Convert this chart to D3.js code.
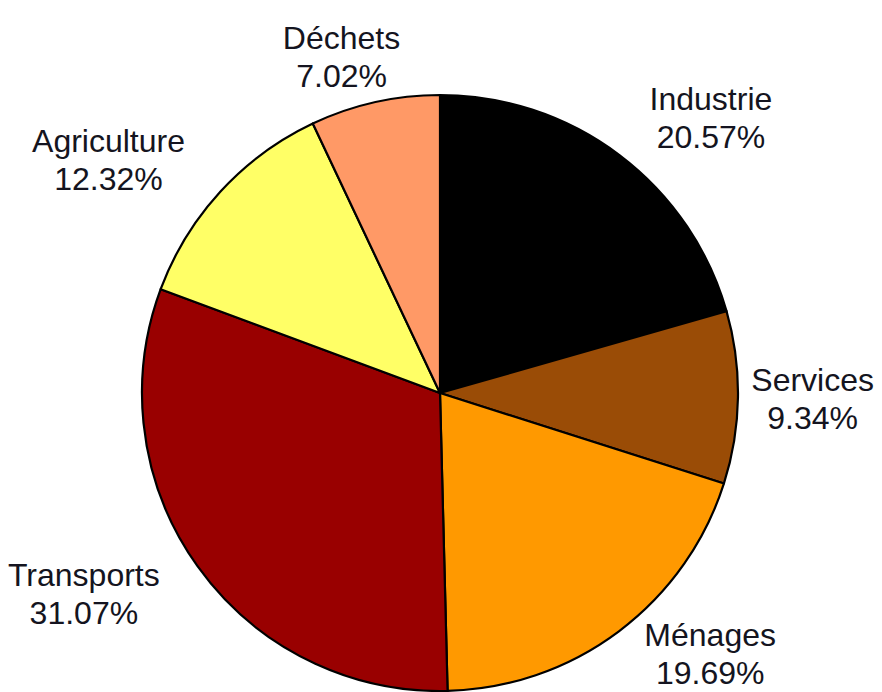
<!DOCTYPE html>
<html>
<head>
<meta charset="utf-8">
<script src="https://cdn.jsdelivr.net/npm/d3@7"></script>
<style>
  body { margin: 0; background: #fff; }
  svg { display: block; }
</style>
</head>
<body>
<div id="chart"></div>
<script>
// categories and shares (%), clockwise from 12 o'clock
var categories = ["Industrie", "Services", "Ménages", "Transports", "Agriculture", "Déchets"];
var values = [20.57, 9.34, 19.69, 31.07, 12.32, 7.02];
var labels = ["20.57%", "9.34%", "19.69%", "31.07%", "12.32%", "7.02%"];
var colors = ["#000000", "#9a4c06", "#ff9900", "#990000", "#ffff66", "#ff9966"];

var width = 882, height = 692;
var cx = 440, cy = 393, radius = 298;
var fontSize = 32, lineGap = 38;

var svg = d3.select("#chart")
  .append("svg")
  .attr("width", width)
  .attr("height", height);

var data = categories.map(function(c, i) {
  return { name: c, value: values[i], label: labels[i], color: colors[i] };
});

var pie = d3.pie()
  .sort(null)
  .value(function(d) { return d.value; });

var arc = d3.arc()
  .innerRadius(0)
  .outerRadius(radius);

var arcs = pie(data);

var g = svg.append("g")
  .attr("transform", "translate(" + cx + "," + cy + ")");

g.selectAll("path")
  .data(arcs)
  .enter().append("path")
    .attr("d", arc)
    .style("fill", function(d) { return d.data.color; })
    .style("stroke", "#000")
    .style("stroke-width", 2.2)
    .style("stroke-linejoin", "round");

// labels: pushed out on an ellipse around the pie, kept inside the frame
var rx = 450, ry = 345, margin = 8;

var lbl = svg.append("g")
  .style("font-family", "'Liberation Sans', Arial, sans-serif")
  .style("font-size", fontSize + "px")
  .style("fill", "#141420");

arcs.forEach(function(d) {
  var a = (d.startAngle + d.endAngle) / 2;
  var x = cx + Math.sin(a) * rx;
  var y = cy - Math.cos(a) * ry;

  var t = lbl.append("text")
    .attr("text-anchor", "middle");
  var t1 = t.append("tspan").text(d.data.name);
  var t2 = t.append("tspan").text(d.data.label);

  var w = Math.max(t1.node().getComputedTextLength(), t2.node().getComputedTextLength());
  x = Math.max(margin + w / 2, Math.min(width - margin - w / 2, x));
  // keep the second line (with its descent) inside the bottom edge
  y = Math.min(y, height - 8 + 7.5 - lineGap);

  t1.attr("x", x).attr("y", y - 7.5);
  t2.attr("x", x).attr("y", y - 7.5 + lineGap);
});
</script>
</body>
</html>
